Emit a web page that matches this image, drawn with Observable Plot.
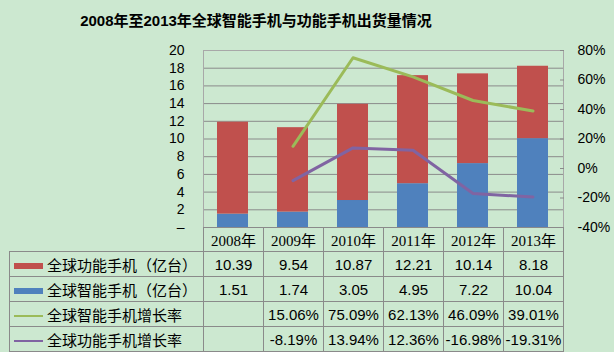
<!DOCTYPE html>
<html><head><meta charset="utf-8">
<script src="https://cdn.jsdelivr.net/npm/d3@7"></script>
<script src="https://cdn.jsdelivr.net/npm/@observablehq/plot@0.6"></script>
<style>
html,body{margin:0;padding:0;background:#cce8d0;}
#wrap{position:relative;width:614px;height:352px;overflow:hidden;background:#cce8d0;font-family:"Liberation Sans",Arial,"Noto Sans CJK SC",sans-serif;color:#000;}
#title{position:absolute;left:0;width:512px;top:11px;text-align:center;font-weight:bold;font-size:15px;line-height:20px;font-family:"Liberation Sans",Arial,"Noto Sans CJK SC",sans-serif;}
#chart{position:absolute;left:0;top:0;}
#tbl{position:absolute;left:9px;top:227px;border-collapse:collapse;table-layout:fixed;}
#tbl td{border:1px solid #8a8a8a;padding:0;text-align:center;font-size:15px;white-space:nowrap;overflow:hidden;box-sizing:border-box;}
#tbl tr.h td{height:24px;font-family:"Liberation Serif","Noto Sans CJK SC",serif;font-size:15px;}
#tbl tr.r td{height:25px;}
#tbl td.lab{text-align:left;padding-left:4px;font-family:"Noto Sans CJK SC",sans-serif;font-size:15px;}
#tbl td.blank{border-top:none;border-left:none;}
.sw{display:inline-block;width:29px;vertical-align:middle;margin-right:4px;}
</style></head>
<body>
<div id="wrap">
  <div id="chart"></div>
  <div id="title"></div>
  <table id="tbl"></table>
</div>
<script>
const titleText = "2008年至2013年全球智能手机与功能手机出货量情况";
const years = ["2008年","2009年","2010年","2011年","2012年","2013年"];
const featurePhones = [10.39, 9.54, 10.87, 12.21, 10.14, 8.18];
const smartPhones = [1.51, 1.74, 3.05, 4.95, 7.22, 10.04];
const smartGrowth = [null, 15.06, 75.09, 62.13, 46.09, 39.01];
const featureGrowth = [null, -8.19, 13.94, 12.36, -16.98, -19.31];
const seriesNames = ["全球功能手机（亿台）", "全球智能手机（亿台）", "全球智能手机增长率", "全球功能手机增长率"];
const leftTicks = [0, 2, 4, 6, 8, 10, 12, 14, 16, 18, 20];
const rightTicks = [-40, -20, 0, 20, 40, 60, 80];

const RED = "#c0504d", BLUE = "#4f81bd", GREEN = "#9bbb59", PURPLE = "#8064a2";

// map right-axis percent onto left axis units (-40%..80% -> 0..20)
const pct = p => (p + 40) / 6;

const bars = years.flatMap((y, i) => [
  {year: y, s: seriesNames[1], v: smartPhones[i]},
  {year: y, s: seriesNames[0], v: featurePhones[i]}
]);
const sg = years.map((y, i) => ({year: y, g: smartGrowth[i]})).filter(d => d.g != null);
const fg = years.map((y, i) => ({year: y, g: featureGrowth[i]})).filter(d => d.g != null);

document.getElementById("title").textContent = titleText;

const chart = Plot.plot({
  width: 614,
  height: 228,
  marginLeft: 203,
  marginRight: 51,
  marginTop: 50,
  marginBottom: 1,
  style: {background: "transparent", fontFamily: "'Liberation Sans', Arial, sans-serif", fontSize: "14px", color: "#000", overflow: "visible"},
  x: {domain: years, paddingInner: 0.48, paddingOuter: 0.24, axis: null},
  y: {domain: [0, 20], axis: null},
  color: {domain: [seriesNames[0], seriesNames[1]], range: [RED, BLUE]},
  marks: [
    Plot.gridY(leftTicks.filter(t => t > 0 && t < 20), {stroke: "#8a8a8a", strokeOpacity: 1}),
    Plot.barY(bars, {x: "year", y: "v", fill: "s"}),
    Plot.frame({stroke: "#a8a8a8"}),
    Plot.ruleY([0], {stroke: "#8a8a8a"}),
    Plot.axisY(leftTicks, {anchor: "left", tickSize: 0, tickPadding: 19, fontSize: 14, label: null,
      tickFormat: d => d === 0 ? "–" : String(d)}),
    Plot.axisY(rightTicks.map(pct), {anchor: "right", tickSize: 4, dx: -4, stroke: "#8a8a8a", label: null,
      tickFormat: () => ""}),
    Plot.axisY(rightTicks.map(pct), {anchor: "right", tickSize: 0, tickPadding: 14, fontSize: 14, label: null,
      tickFormat: d => Math.round(d * 6 - 40) + "%"}),
    Plot.line(sg, {x: "year", y: d => pct(d.g), stroke: GREEN, strokeWidth: 3}),
    Plot.line(fg, {x: "year", y: d => pct(d.g), stroke: PURPLE, strokeWidth: 3})
  ]
});
document.getElementById("chart").appendChild(chart);

// data table
const tbl = document.getElementById("tbl");
const colg = document.createElement("colgroup");
[194, 60, 60, 60, 60, 60, 60].forEach(w => { const c = document.createElement("col"); c.style.width = w + "px"; colg.appendChild(c); });
tbl.appendChild(colg);
const hr = document.createElement("tr"); hr.className = "h";
const b = document.createElement("td"); b.className = "blank"; hr.appendChild(b);
years.forEach(y => { const td = document.createElement("td"); td.textContent = y; hr.appendChild(td); });
tbl.appendChild(hr);
const fmtN = v => v.toFixed(2);
const fmtP = v => v == null ? "" : v.toFixed(2) + "%";
const rows = [
  {name: seriesNames[0], color: RED, h: 6, vals: featurePhones.map(fmtN)},
  {name: seriesNames[1], color: BLUE, h: 6, vals: smartPhones.map(fmtN)},
  {name: seriesNames[2], color: GREEN, h: 2, vals: smartGrowth.map(fmtP)},
  {name: seriesNames[3], color: PURPLE, h: 2, vals: featureGrowth.map(fmtP)}
];
rows.forEach(r => {
  const tr = document.createElement("tr"); tr.className = "r";
  const l = document.createElement("td"); l.className = "lab";
  const sw = document.createElement("span"); sw.className = "sw";
  sw.style.height = r.h + "px"; sw.style.background = r.color;
  l.appendChild(sw); l.appendChild(document.createTextNode(r.name));
  tr.appendChild(l);
  r.vals.forEach(v => { const td = document.createElement("td"); td.textContent = v; tr.appendChild(td); });
  tbl.appendChild(tr);
});
</script>
</body></html>
